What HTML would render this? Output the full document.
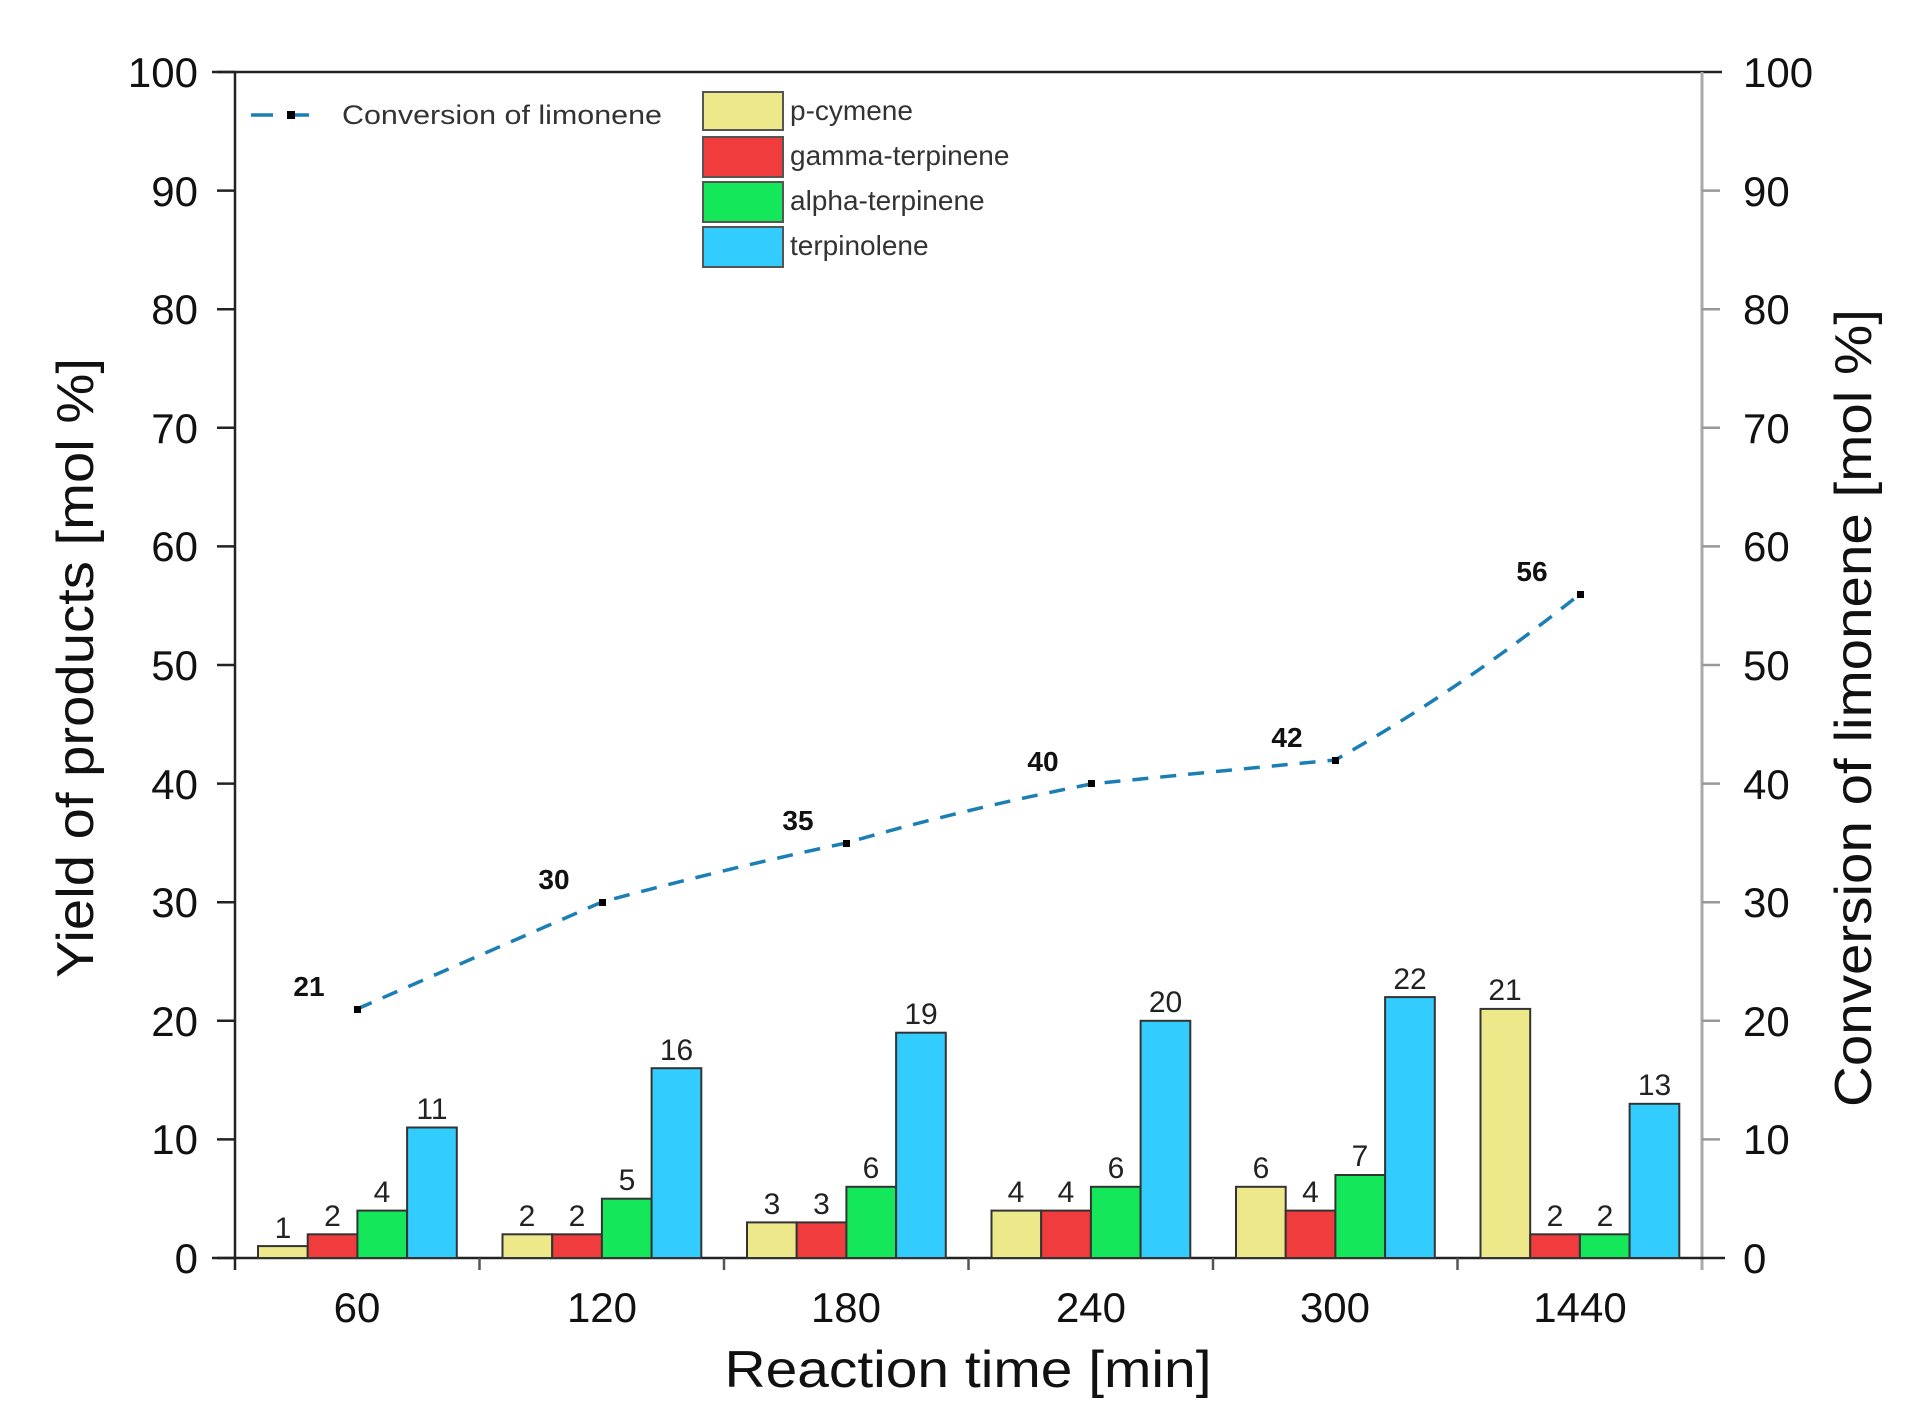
<!DOCTYPE html>
<html><head><meta charset="utf-8"><style>
html,body{margin:0;padding:0;background:#fff;}
svg{display:block;font-family:"Liberation Sans",sans-serif;}
</style></head><body>
<svg width="1928" height="1426" viewBox="0 0 1928 1426" xmlns="http://www.w3.org/2000/svg">
<rect width="1928" height="1426" fill="#fff"/>
<!-- axes -->
<line x1="212" y1="72" x2="1722" y2="72" stroke="#222" stroke-width="2.5"/>
<line x1="235" y1="72" x2="1235" y2="72" stroke="#222" stroke-width="0"/>
<line x1="235" y1="72" x2="235" y2="1270" stroke="#222" stroke-width="2.5"/>
<line x1="1702" y1="72" x2="1702" y2="1270" stroke="#aaa" stroke-width="3"/>
<line x1="212" y1="1258" x2="1725" y2="1258" stroke="#222" stroke-width="2.5"/>
<!-- left ticks -->
<g stroke="#222" stroke-width="2.5">
<line x1="217" y1="1258" x2="235" y2="1258"/><line x1="217" y1="1139.4" x2="235" y2="1139.4"/>
<line x1="217" y1="1020.8" x2="235" y2="1020.8"/><line x1="217" y1="902.2" x2="235" y2="902.2"/>
<line x1="217" y1="783.6" x2="235" y2="783.6"/><line x1="217" y1="665" x2="235" y2="665"/>
<line x1="217" y1="546.4" x2="235" y2="546.4"/><line x1="217" y1="427.8" x2="235" y2="427.8"/>
<line x1="217" y1="309.2" x2="235" y2="309.2"/><line x1="217" y1="190.6" x2="235" y2="190.6"/>
<line x1="217" y1="72" x2="235" y2="72"/>
</g>
<g stroke="#999" stroke-width="2.5">
<line x1="1702" y1="1139.4" x2="1720" y2="1139.4"/>
<line x1="1702" y1="1020.8" x2="1720" y2="1020.8"/><line x1="1702" y1="902.2" x2="1720" y2="902.2"/>
<line x1="1702" y1="783.6" x2="1720" y2="783.6"/><line x1="1702" y1="665" x2="1720" y2="665"/>
<line x1="1702" y1="546.4" x2="1720" y2="546.4"/><line x1="1702" y1="427.8" x2="1720" y2="427.8"/>
<line x1="1702" y1="309.2" x2="1720" y2="309.2"/><line x1="1702" y1="190.6" x2="1720" y2="190.6"/>
</g>
<!-- x ticks -->
<g stroke="#555" stroke-width="2.5">
<line x1="479.5" y1="1258" x2="479.5" y2="1270"/><line x1="724" y1="1258" x2="724" y2="1270"/>
<line x1="968.5" y1="1258" x2="968.5" y2="1270"/><line x1="1213" y1="1258" x2="1213" y2="1270"/>
<line x1="1457.5" y1="1258" x2="1457.5" y2="1270"/>
</g>
<!-- left tick labels -->
<g font-size="42" fill="#111" text-anchor="end">
<text x="198" y="1273">0</text><text x="198" y="1154">10</text><text x="198" y="1036">20</text>
<text x="198" y="917">30</text><text x="198" y="799">40</text><text x="198" y="680">50</text>
<text x="198" y="561">60</text><text x="198" y="443">70</text><text x="198" y="324">80</text>
<text x="198" y="206">90</text><text x="198" y="87">100</text>
</g>
<g font-size="42" fill="#111" text-anchor="start">
<text x="1743" y="1273">0</text><text x="1743" y="1154">10</text><text x="1743" y="1036">20</text>
<text x="1743" y="917">30</text><text x="1743" y="799">40</text><text x="1743" y="680">50</text>
<text x="1743" y="561">60</text><text x="1743" y="443">70</text><text x="1743" y="324">80</text>
<text x="1743" y="206">90</text><text x="1743" y="87">100</text>
</g>
<!-- x labels -->
<g font-size="42" fill="#111" text-anchor="middle">
<text x="357" y="1322">60</text><text x="602" y="1322">120</text><text x="846" y="1322">180</text>
<text x="1091" y="1322">240</text><text x="1335" y="1322">300</text><text x="1580" y="1322">1440</text>
</g>
<!-- axis titles -->
<text x="968" y="1387" font-size="52" text-anchor="middle" fill="#111" textLength="487" lengthAdjust="spacingAndGlyphs">Reaction time [min]</text>
<text transform="translate(93,668) rotate(-90)" font-size="52" text-anchor="middle" fill="#111" textLength="620" lengthAdjust="spacingAndGlyphs">Yield of products [mol %]</text>
<text transform="translate(1871,708) rotate(-90)" font-size="52" text-anchor="middle" fill="#111" textLength="798" lengthAdjust="spacingAndGlyphs">Conversion of limonene [mol %]</text>
<!-- bars -->
<g stroke="#333" stroke-width="2">
<rect x="258" y="1246.1" width="49.7" height="11.9" fill="#ede88a"/>
<rect x="307.7" y="1234.3" width="49.7" height="23.7" fill="#f03c3c"/>
<rect x="357.4" y="1210.6" width="49.7" height="47.4" fill="#14e85a"/>
<rect x="407.1" y="1127.5" width="49.7" height="130.5" fill="#33ccff"/>

<rect x="502.5" y="1234.3" width="49.7" height="23.7" fill="#ede88a"/>
<rect x="552.2" y="1234.3" width="49.7" height="23.7" fill="#f03c3c"/>
<rect x="601.9" y="1198.7" width="49.7" height="59.3" fill="#14e85a"/>
<rect x="651.6" y="1068.2" width="49.7" height="189.8" fill="#33ccff"/>

<rect x="747" y="1222.4" width="49.7" height="35.6" fill="#ede88a"/>
<rect x="796.7" y="1222.4" width="49.7" height="35.6" fill="#f03c3c"/>
<rect x="846.4" y="1186.8" width="49.7" height="71.2" fill="#14e85a"/>
<rect x="896.1" y="1032.7" width="49.7" height="225.3" fill="#33ccff"/>

<rect x="991.5" y="1210.6" width="49.7" height="47.4" fill="#ede88a"/>
<rect x="1041.2" y="1210.6" width="49.7" height="47.4" fill="#f03c3c"/>
<rect x="1090.9" y="1186.8" width="49.7" height="71.2" fill="#14e85a"/>
<rect x="1140.6" y="1020.8" width="49.7" height="237.2" fill="#33ccff"/>

<rect x="1236" y="1186.8" width="49.7" height="71.2" fill="#ede88a"/>
<rect x="1285.7" y="1210.6" width="49.7" height="47.4" fill="#f03c3c"/>
<rect x="1335.4" y="1175" width="49.7" height="83" fill="#14e85a"/>
<rect x="1385.1" y="997.1" width="49.7" height="260.9" fill="#33ccff"/>

<rect x="1480.5" y="1008.9" width="49.7" height="249.1" fill="#ede88a"/>
<rect x="1530.2" y="1234.3" width="49.7" height="23.7" fill="#f03c3c"/>
<rect x="1579.9" y="1234.3" width="49.7" height="23.7" fill="#14e85a"/>
<rect x="1629.6" y="1103.8" width="49.7" height="154.2" fill="#33ccff"/>
</g>
<!-- bar labels -->
<g font-size="30" fill="#222" text-anchor="middle">
<text x="283" y="1238">1</text><text x="332.5" y="1226">2</text><text x="382" y="1202">4</text><text x="432" y="1119">11</text>
<text x="527" y="1226">2</text><text x="577" y="1226">2</text><text x="627" y="1190">5</text><text x="676.5" y="1060">16</text>
<text x="772" y="1214">3</text><text x="821.5" y="1214">3</text><text x="871" y="1178">6</text><text x="921" y="1024">19</text>
<text x="1016" y="1202">4</text><text x="1066" y="1202">4</text><text x="1116" y="1178">6</text><text x="1165.5" y="1012">20</text>
<text x="1261" y="1178">6</text><text x="1310.5" y="1202">4</text><text x="1360" y="1166">7</text><text x="1410" y="989">22</text>
<text x="1505" y="1000">21</text><text x="1555" y="1226">2</text><text x="1605" y="1226">2</text><text x="1654.5" y="1095">13</text>
</g>
<!-- line -->
<path d="M357,1009 L602,902 Q720,870 846,843 Q960,810 1091,784 Q1230,770 1335,760 Q1460,690 1580,594" fill="none" stroke="#1b7fb5" stroke-width="3.5" stroke-dasharray="16,12"/>
<g fill="#000">
<rect x="354" y="1006" width="7" height="7"/><rect x="599" y="899" width="7" height="7"/>
<rect x="843" y="840" width="7" height="7"/><rect x="1088" y="780" width="7" height="7"/>
<rect x="1332" y="757" width="7" height="7"/><rect x="1577" y="591" width="7" height="7"/>
</g>
<g font-size="28" font-weight="bold" fill="#111" text-anchor="middle">
<text x="309" y="996">21</text><text x="554" y="889">30</text><text x="798" y="830">35</text>
<text x="1043" y="771">40</text><text x="1287" y="747">42</text><text x="1532" y="581">56</text>
</g>
<!-- legend -->
<line x1="251" y1="115" x2="319" y2="115" stroke="#1b7fb5" stroke-width="3.5" stroke-dasharray="22,14"/>
<rect x="287" y="111" width="8" height="8" fill="#000"/>
<text x="342" y="124" font-size="27" fill="#333" textLength="320" lengthAdjust="spacingAndGlyphs">Conversion of limonene</text>
<g stroke="#555" stroke-width="2">
<rect x="703" y="92" width="80" height="38" fill="#ede88a"/>
<rect x="703" y="137" width="80" height="40" fill="#f03c3c"/>
<rect x="703" y="182" width="80" height="40" fill="#14e85a"/>
<rect x="703" y="227" width="80" height="40" fill="#33ccff"/>
</g>
<g font-size="28" fill="#333">
<text x="790" y="120">p-cymene</text>
<text x="790" y="165">gamma-terpinene</text>
<text x="790" y="210">alpha-terpinene</text>
<text x="790" y="255">terpinolene</text>
</g>
</svg>
</body></html>
